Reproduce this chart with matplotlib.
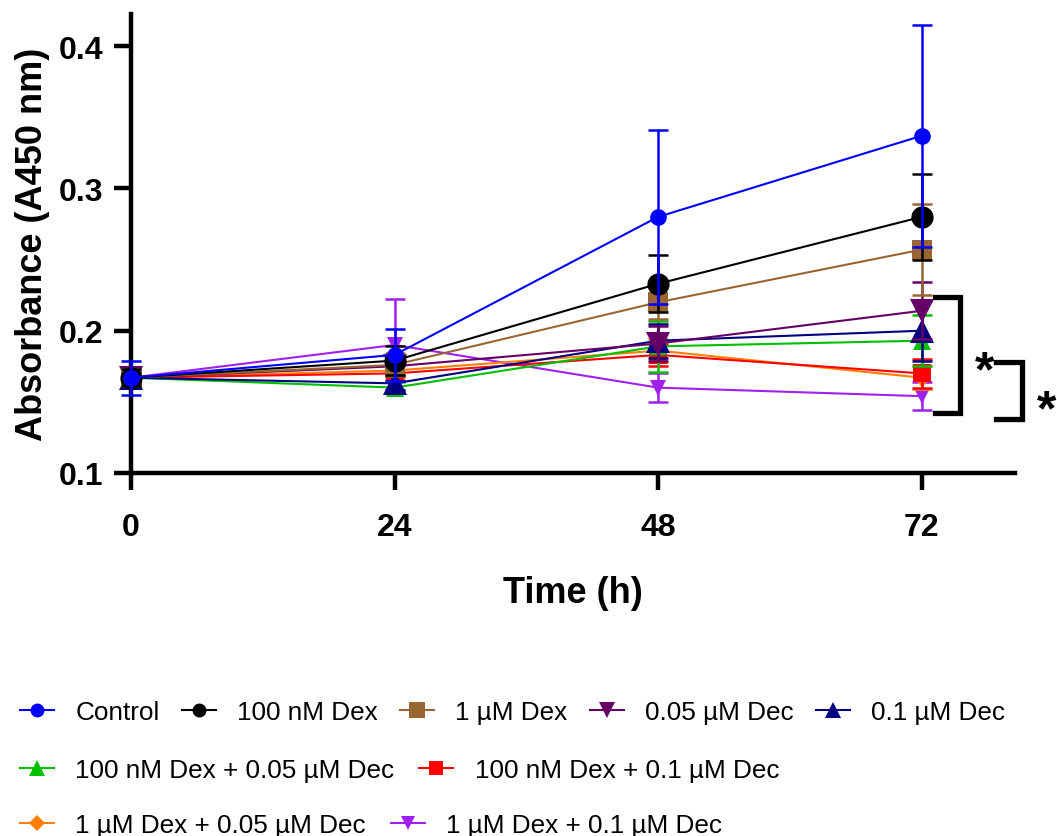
import matplotlib
matplotlib.use("Agg")
import matplotlib.pyplot as plt
from matplotlib.lines import Line2D

plt.rcParams['font.family'] = ['Liberation Sans', 'DejaVu Sans']

times = [0, 24, 48, 72]
labels = ["Control", "100 nM Dex", "1 µM Dex", "0.05 µM Dec", "0.1 µM Dec",
          "100 nM Dex + 0.05 µM Dec", "100 nM Dex + 0.1 µM Dec",
          "1 µM Dex + 0.05 µM Dec", "1 µM Dex + 0.1 µM Dec"]

control = [0.167, 0.183, 0.280, 0.337]
control_err = [0.012, 0.018, 0.061, 0.078]
dex100 = [0.167, 0.179, 0.233, 0.280]
dex100_err = [0.006, 0.010, 0.020, 0.030]
dex1 = [0.167, 0.176, 0.220, 0.257]
dex1_err = [0.005, 0.008, 0.012, 0.032]
dec005 = [0.167, 0.175, 0.191, 0.214]
dec005_err = [0.005, 0.006, 0.012, 0.020]
dec01 = [0.167, 0.163, 0.193, 0.200]
dec01_err = [0.005, 0.005, 0.012, 0.021]
dex100_dec005 = [0.167, 0.160, 0.189, 0.193]
dex100_dec005_err = [0.004, 0.004, 0.018, 0.018]
dex100_dec01 = [0.167, 0.170, 0.183, 0.170]
dex100_dec01_err = [0.004, 0.005, 0.008, 0.010]
dex1_dec005 = [0.167, 0.172, 0.186, 0.167]
dex1_dec005_err = [0.004, 0.005, 0.008, 0.008]
dex1_dec01 = [0.167, 0.190, 0.160, 0.154]
dex1_dec01_err = [0.005, 0.032, 0.010, 0.010]

series = [control, dex100, dex1, dec005, dec01, dex100_dec005, dex100_dec01, dex1_dec005, dex1_dec01]
errors = [control_err, dex100_err, dex1_err, dec005_err, dec01_err,
          dex100_dec005_err, dex100_dec01_err, dex1_dec005_err, dex1_dec01_err]
colors = ["#0000FF", "#000000", "#996633", "#660066", "#000080",
          "#00C000", "#FF0000", "#FF8000", "#A020F0"]
markers = ["o", "o", "s", "v", "^", "^", "s", "D", "v"]
msizes = [12, 16, 15, 17, 17, 13, 13, 9, 12]
leg_msizes = [10, 10, 11, 11, 11, 11, 10, 8, 10]

# significance brackets (annotation geometry, data coords)
br1_x = [73.2, 75.5, 75.5, 73.2]
br1_y = [0.2237, 0.2237, 0.1422, 0.1422]
br2_x = [78.8, 81.1, 81.1, 78.8]
br2_y = [0.178, 0.178, 0.138, 0.138]
star1 = (77.7, 0.171)
star2 = (83.4, 0.143)

W, H = 1057, 837
fig = plt.figure(figsize=(W / 100, H / 100), dpi=100)
ax = fig.add_axes([131 / W, 1 - 474 / H, (1015 - 131) / W, (474 - 15) / H])

n = len(series)
for i in reversed(range(n)):
    z = 3 + (n - i) * 0.1
    ax.errorbar(times, series[i], yerr=errors[i], fmt='none', ecolor=colors[i],
                elinewidth=1.8, capsize=7, capthick=1.8, zorder=z, clip_on=False)
    ax.plot(times, series[i], color=colors[i], marker=markers[i], markersize=msizes[i],
            linewidth=1.5, markeredgewidth=0, zorder=z + 0.05, clip_on=False)

ax.set_xlim(0, 80.5)
ax.set_ylim(0.1, 0.4226)
ax.set_xticks(times)
ax.set_yticks([0.1, 0.2, 0.3, 0.4])
ax.set_yticklabels(["0.1", "0.2", "0.3", "0.4"])
for s in ["top", "right"]:
    ax.spines[s].set_visible(False)
for s in ["left", "bottom"]:
    ax.spines[s].set_linewidth(3.2)
ax.tick_params(axis='both', which='major', length=12, width=3.2, labelsize=23)
ax.tick_params(axis='x', pad=16)
ax.tick_params(axis='y', pad=8)
for lab in ax.get_xticklabels() + ax.get_yticklabels():
    lab.set_fontweight('bold')

ax.set_xlabel("Time (h)", fontsize=26, fontweight='bold', labelpad=24)
ax.set_ylabel("Absorbance (A450 nm)", fontsize=26, fontweight='bold', labelpad=6)

ax.plot(br1_x, br1_y, color='black', linewidth=3.8, clip_on=False, solid_joinstyle='miter')
ax.plot(br2_x, br2_y, color='black', linewidth=3.8, clip_on=False, solid_joinstyle='miter')
ax.text(star1[0], star1[1], "*", fontsize=36, fontweight='bold', ha='center', va='center')
ax.text(star2[0], star2[1], "*", fontsize=36, fontweight='bold', ha='center', va='center')

handles = [Line2D([0], [0], color=colors[i], marker=markers[i], markersize=leg_msizes[i],
                  markeredgewidth=0, linewidth=1.5) for i in range(n)]
rows = [[0, 1, 2, 3, 4], [5, 6], [7, 8]]
row_y = [1 - 713 / H, 1 - 771 / H, 1 - 826 / H]
row_colspace = [0.85, 0.95, 0.95]
for r, yy, cs in zip(rows, row_y, row_colspace):
    fig.legend([handles[i] for i in r], [labels[i] for i in r], loc='center left',
               bbox_to_anchor=(20 / W, yy), ncol=len(r), frameon=False, fontsize=18.8,
               handlelength=1.3, handletextpad=0.82, columnspacing=cs, borderpad=0,
               borderaxespad=0)

fig.savefig("out.png", dpi=100)
